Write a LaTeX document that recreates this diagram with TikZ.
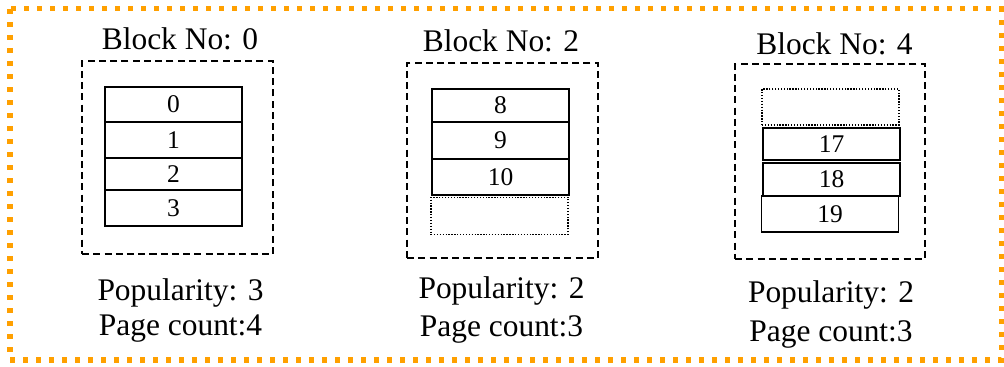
\documentclass[tikz,border=0pt]{standalone}
\usepackage{fontspec}
\setmainfont{Liberation Serif}
\usetikzlibrary{positioning}
\definecolor{frameorange}{RGB}{255,160,0}
\tikzset{
  blk/.style={draw,dash pattern=on 4pt off 2.4pt,line width=0.8pt,inner sep=0pt,
              minimum width=3.82cm},
  pg/.style={draw,line width=0.8pt,minimum width=2.74cm,inner sep=0pt,
             font=\fontsize{14.5}{16}\selectfont},
  freepg/.style={pg,line width=0.75pt,dash pattern=on 0.75pt off 0.9pt},
  ttl/.style={anchor=base,inner sep=0pt,font=\fontsize{17.9}{20}\selectfont},
  frame/.style={draw=frameorange,line width=2.85pt,dash pattern=on 2.85pt off 4.55pt}
}

\begin{document}
\begin{tikzpicture}[x=0.02cm,y=-0.02cm]
  \useasboundingbox (0,0) rectangle (1004,367);
  \draw[frame] (10,9) rectangle (1001,360);

  % block 0
  \node[blk,minimum height=3.86cm] (b0) at (177.5,157.5) {};
  \node[ttl] (t0) at (180,50) {Block No: 0};
  \node[pg,minimum height=0.70cm] (p0) at (173.5,104.5) {0};
  \node[pg,minimum height=0.72cm] (p1) at (173.5,140) {1};
  \node[pg,minimum height=0.64cm] (p2) at (173.5,174) {2};
  \node[pg,minimum height=0.72cm] (p3) at (173.5,208) {3};
  \node[ttl] (pop0) at (180.5,300.5) {Popularity: 3};
  \node[ttl] (cnt0) at (180.5,336) {Page count:4};

  % block 2
  \node[blk,minimum height=3.90cm] (b2) at (502.5,160.5) {};
  \node[ttl] (t2) at (501,52) {Block No: 2};
  \node[pg,minimum height=0.66cm] (p8) at (500.5,105.5) {8};
  \node[pg,minimum height=0.74cm] (p9) at (500.5,140.5) {9};
  \node[pg,minimum height=0.72cm] (p10) at (500.5,177) {10};
  \node[freepg,minimum height=0.74cm] (f2) at (499.5,216) {};
  \node[ttl] (pop2) at (501.5,299) {Popularity: 2};
  \node[ttl] (cnt2) at (501.5,337) {Page count:3};

  % block 4
  \node[blk,minimum width=3.80cm,minimum height=3.90cm] (b4) at (830,161.5) {};
  \node[ttl] (t4) at (834.5,55) {Block No: 4};
  \node[freepg,minimum height=0.72cm] (f4) at (830.5,107) {};
  \node[pg,minimum height=0.64cm] (p17) at (831.5,144) {17};
  \node[pg,minimum height=0.66cm] (p18) at (831.5,179.5) {18};
  \node[pg,minimum height=0.72cm] (p19) at (830,214) {19};
  \node[ttl] (pop4) at (831,303) {Popularity: 2};
  \node[ttl] (cnt4) at (831,342) {Page count:3};
\end{tikzpicture}
\end{document}
